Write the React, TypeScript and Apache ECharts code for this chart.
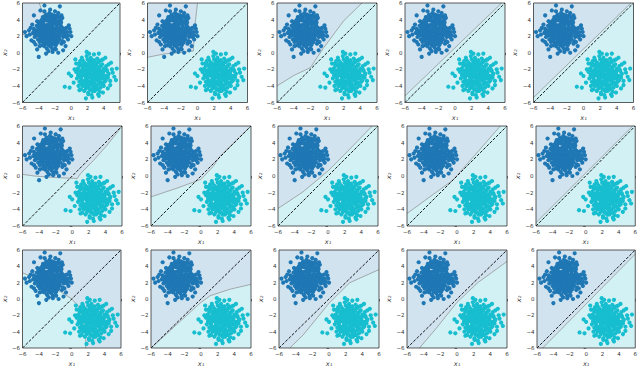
import React, { useEffect, useRef } from "react";
import * as echarts from "echarts";

// Cluster 1 (upper-left, class 0)
const clusterA: number[][] = [
  [-1.4,5.6],[-3.3,5.7],[-4.6,4.5],[-5.7,2.5],[-5.5,2.0],[-4.0,-0.5],[-4.2,0.4],[-0.1,2.5],[0.0,2.0],[-0.4,1.6],
  [-1.0,0.3],[-2.3,0.1],[-3.1,-0.1],[-1.1,4.2],[-5.0,3.0],[-4.9,1.5],[-0.3,3.3],[-2.0,5.0],[-3.8,5.1],[-1.6,4.8],
  [-4.4,1.0],[-0.7,0.8],[-1.6,0.0],[-2.8,0.2],[-5.2,2.7],[-0.2,2.9],
  [-2.6,2.5],[-2.1,2.9],[-3.0,2.2],[-2.4,1.8],[-3.3,3.0],[-1.9,2.2],[-2.8,3.4],[-3.6,2.4],[-2.2,3.6],[-1.5,2.7],
  [-3.1,1.6],[-2.7,1.2],[-3.9,2.9],[-1.7,1.6],[-2.5,4.0],[-3.4,3.8],[-1.3,3.3],[-4.1,2.1],[-2.0,1.3],[-3.5,1.3],
  [-2.9,2.8],[-2.3,2.3],[-3.2,2.6],[-1.8,3.1],[-2.6,3.1],[-3.7,3.3],[-2.4,1.5],[-1.4,2.1],[-3.0,3.9],[-2.0,4.1],
  [-4.3,2.7],[-3.8,1.8],[-1.2,2.6],[-2.8,0.9],[-2.2,1.0],[-3.4,2.0],[-1.6,3.8],[-2.9,4.3],[-4.0,3.5],[-1.0,1.9],
  [-3.3,0.8],[-2.5,0.7],[-1.9,0.9],[-3.6,3.7],[-4.4,2.3],[-2.1,4.5],[-3.1,4.6],[-1.5,4.3],[-0.9,2.9],[-3.9,1.3],
  [-2.7,2.0],[-2.0,2.6],[-3.5,2.7],[-2.3,3.3],[-1.6,2.4],[-3.0,1.9],[-2.6,3.7],[-3.8,2.6],[-1.7,1.2],[-2.4,4.2],
  [-4.6,2.9],[-4.2,3.8],[-0.8,2.3],[-1.1,1.4],[-3.2,1.1],[-2.3,0.4],[-3.6,0.9],[-1.3,3.9],[-2.7,4.8],[-3.5,4.3],
  [-1.8,2.0],[-2.9,2.4],[-3.4,3.4],[-2.1,1.7],[-1.4,3.0],[-4.0,2.5],[-2.5,2.9],[-3.1,3.3],[-2.0,3.5],[-3.7,2.1],
  [-1.0,2.4],[-4.5,1.9],[-2.8,1.6],[-1.6,1.8],[-3.3,4.1],[-2.2,2.0],[-3.9,3.1],[-2.6,1.4],[-1.9,3.9],[-0.6,1.9],
  [-4.7,2.4],[-3.0,0.5],[-2.0,0.5],[-1.2,1.1],[-4.1,1.6],[-3.6,4.0],[-2.4,4.6],[-1.7,4.5],[-0.6,3.0],[-0.5,2.5],
  [-2.45,2.15],[-2.85,2.65],[-2.15,2.45],[-3.25,2.35],[-2.65,1.75],[-1.95,2.75],[-3.05,3.15],[-2.35,3.05],[-3.45,1.75],[-1.75,3.45],
  [-2.75,3.85],[-3.75,2.85],[-1.35,2.45],[-2.05,1.55],[-3.15,1.35],[-4.05,3.05],[-1.55,3.55],[-2.55,1.05],[-3.55,3.55],[-1.85,4.25],
  [-4.35,2.05],[-1.15,3.05],[-2.95,4.05],[-3.95,2.25],[-1.45,1.65],[-2.25,4.35],[-3.35,0.95],[-0.95,2.15],[-4.25,3.25],[-2.85,1.25],
  [-1.65,1.35],[-3.65,1.55],[-2.15,3.85],[-3.25,4.35],[-0.85,2.65],[-4.55,2.65],[-2.45,0.95],[-1.25,3.65],[-3.85,3.75],[-2.65,4.45],
  [-2.3,2.7],[-2.9,2.1],[-3.5,3.1],[-1.7,2.9],[-2.5,3.5],[-3.1,2.9],[-2.0,2.1],[-3.3,2.3],[-2.7,2.8],[-2.2,1.4],
  [-4.8,3.4],[-0.4,2.1],[-1.2,4.5],[-3.9,0.8],[-1.9,0.4],[-3.3,5.0],[-0.9,1.3],[-4.6,1.3],[-2.6,5.2],[-5.1,2.2],
];

// Cluster 2 (lower-right, class 1)
const clusterB: number[][] = [
  [5.6,-1.9],[5.5,-3.3],[-0.8,-4.1],[-0.2,-4.2],[1.8,-5.5],[2.6,-5.4],[4.5,-4.3],[3.3,-5.0],[2.2,-0.1],[2.8,-0.2],
  [1.9,0.1],[3.4,-0.1],[5.1,-2.4],[0.0,-2.8],[-0.3,-2.5],[4.9,-1.2],[1.0,-4.5],[0.5,-0.8],[4.2,-0.6],[4.8,-3.9],
  [0.3,-3.6],[3.9,-4.8],[1.3,-0.6],[2.1,-5.0],[0.6,-1.3],[5.3,-2.9],
  [2.4,-2.5],[2.9,-2.1],[2.0,-2.8],[2.6,-1.9],[1.8,-3.2],[3.1,-2.6],[2.2,-1.5],[1.5,-2.3],[3.3,-3.0],[2.7,-3.4],
  [1.7,-1.6],[3.6,-2.2],[2.3,-3.8],[1.2,-2.9],[3.0,-1.3],[2.0,-4.0],[3.8,-3.1],[1.4,-1.9],[2.8,-4.2],[3.5,-1.7],
  [2.1,-2.2],[2.6,-2.8],[1.9,-2.5],[3.2,-2.0],[2.5,-3.1],[1.6,-3.6],[3.4,-2.7],[2.2,-1.1],[1.1,-2.2],[2.9,-3.7],
  [3.9,-2.4],[1.3,-3.3],[2.4,-1.3],[3.7,-3.6],[1.8,-4.3],[2.7,-1.6],[0.9,-2.6],[3.1,-4.0],[4.0,-1.9],[2.0,-1.8],
  [1.6,-1.2],[3.4,-1.1],[2.5,-4.5],[1.0,-3.5],[4.2,-2.8],[2.2,-3.5],[3.0,-2.4],[1.5,-2.7],[2.8,-0.9],[3.6,-4.2],
  [2.3,-2.0],[2.8,-2.6],[1.7,-2.1],[3.3,-3.4],[2.1,-3.0],[2.6,-3.9],[1.4,-4.0],[3.8,-1.4],[2.0,-0.8],[4.1,-3.5],
  [0.8,-1.9],[1.2,-1.4],[3.5,-2.3],[2.9,-4.6],[1.9,-3.7],[4.4,-2.2],[2.4,-0.6],[0.7,-3.1],[3.2,-0.7],[1.6,-4.6],
  [2.5,-2.2],[1.8,-2.9],[3.0,-3.1],[2.2,-2.6],[2.7,-2.0],[3.6,-2.9],[1.3,-2.5],[2.4,-3.5],[3.9,-2.7],[1.9,-1.4],
  [4.3,-1.6],[0.6,-2.3],[3.2,-4.4],[2.1,-4.8],[1.1,-1.0],[3.7,-0.9],[4.5,-3.0],[2.9,-1.8],[1.5,-3.9],[0.9,-4.0],
  [3.4,-3.8],[2.6,-1.0],[4.0,-4.0],[1.4,-0.9],[2.0,-3.4],[3.1,-1.5],[1.0,-1.6],[4.6,-2.5],[2.3,-4.3],[3.5,-4.7],
  [2.45,-2.15],[2.85,-2.75],[2.15,-2.45],[3.25,-2.35],[2.65,-1.65],[1.95,-3.05],[3.05,-3.25],[2.35,-2.95],[3.45,-1.85],[1.75,-2.45],
  [2.75,-3.85],[3.75,-2.65],[1.35,-2.15],[2.05,-1.45],[3.15,-1.25],[4.05,-3.15],[1.55,-3.45],[2.55,-1.05],[3.55,-3.55],[1.85,-4.05],
  [4.35,-2.05],[1.15,-3.05],[2.95,-4.25],[3.95,-2.15],[1.45,-1.55],[2.25,-4.35],[3.35,-0.95],[0.95,-2.15],[4.25,-3.35],[2.85,-1.25],
  [1.65,-1.25],[3.65,-1.55],[2.15,-3.85],[3.25,-4.35],[0.85,-2.75],[4.55,-2.65],[2.45,-0.85],[1.25,-3.75],[3.85,-3.85],[2.65,-4.65],
  [2.3,-2.7],[2.9,-2.3],[3.5,-3.1],[1.7,-2.8],[2.5,-3.4],[3.1,-2.9],[2.0,-2.1],[3.3,-2.2],[2.7,-2.9],[2.2,-1.7],
  [4.8,-3.4],[0.4,-2.0],[1.2,-4.4],[3.9,-0.8],[1.9,-0.4],[3.4,-5.2],[0.9,-1.3],[4.6,-1.4],[2.5,-5.1],[5.0,-2.0],
];

const diagonal: number[][] = [[-6, -6], [6, 6]];
const fullSquare: number[][] = [[-6, -6], [6, -6], [6, 6], [-6, 6]];
const tickValues = [-6, -4, -2, 0, 2, 4, 6];

// Decision boundaries (gray curve) per panel, row by row
const boundaries: number[][][] = [
  [[-6, 2.2], [-2.4, 2.0], [-3.4, 4.6], [-3.95, 6]],
  [[-6, -0.55], [-4, -0.15], [-0.5, 0.2], [-0.3, 3.4], [0, 6]],
  [[-6, -4], [-4, -2.75], [-2, -1.8], [-0.4, 0.6], [2, 3.85], [4.2, 6]],
  [[-6, -5.2], [5.6, 6]],
  [[-6, -5.4], [5.7, 6]],
  [[-6, 0.2], [-4.6, 0], [-1.8, -0.2], [0.6, -0.3], [1.0, 0.3], [2.6, 1.9], [4.2, 3.7], [5.8, 5.7], [6, 6]],
  [[-6, -2.5], [-3, -1.5], [0, -0.4], [1.5, 1.2], [2.3, 2.4], [6, 6]],
  [[-6, -3.9], [-3, -1.9], [0, 0.6], [2, 2.6], [5.3, 6]],
  [[-6, -4.5], [-0.5, -0.5], [2.5, 2.9], [5.2, 6]],
  [[-6, -5.6], [5.7, 6]],
  [[-6, 3.2], [-4.5, 2.6], [-2.5, 1.6], [-0.9, 0.6], [0, 0], [0.9, -1], [1.5, -2.8], [1.7, -4.4], [1.7, -6]],
  [[-6, -6], [-0.1, -0.5], [1.1, 0.4], [3.5, 1.2], [6, 1.8]],
  [[-4.7, -6], [-3.1, -4.4], [0.1, -0.4], [2.5, 2.0], [6, 3.6]],
  [[-4.5, -6], [-2.5, -3.6], [0, -0.4], [2.5, 2.0], [6, 4.6]],
  [[-5.3, -6], [6, 5.5]],
];

// Corners that close the class-0 (blue) region for each panel
const closures: number[][][] = [
  [[-6, 6]], [[-6, 6]], [[-6, 6]], [[-6, 6]], [[-6, 6]],
  [[-6, 6]], [[-6, 6]], [[-6, 6]], [[-6, 6]], [[-6, 6]],
  [[6, -6], [6, 6], [-6, 6]],
  [[6, 6], [-6, 6]],
  [[6, 6], [-6, 6], [-6, -6]],
  [[6, 6], [-6, 6], [-6, -6]],
  [[6, 6], [-6, 6], [-6, -6]],
];

const rowTops = [2.5, 126, 250];
const rowLefts = [
  [20, 147.5, 277, 405, 533.5],
  [22, 151, 278, 407, 536],
  [21, 151, 279, 407, 537],
];
const PANEL = 100;

const BLUE = "#1f77b4";
const CYAN = "#17becf";
const BLUE_REGION = "#d2e3f0";
const CYAN_REGION = "#d2f1f4";

function fmt(v: number) {
  return String(v).replace("-", "\u2212");
}

function polySeries(poly: number[][], fill: string, idx: number, z: number) {
  return {
    type: "custom",
    coordinateSystem: "cartesian2d",
    xAxisIndex: idx,
    yAxisIndex: idx,
    silent: true,
    z,
    data: [[0, 0]],
    renderItem: (_params: any, api: any) => ({
      type: "polygon",
      shape: { points: poly.map((p) => api.coord(p)) },
      style: { fill, stroke: "none" },
    }),
  };
}

export default function App() {
  const ref = useRef<HTMLDivElement>(null);
  useEffect(() => {
    if (!ref.current) return;
    const chart = echarts.init(ref.current, null, { renderer: "svg" });
    const grids: any[] = [];
    const xAxes: any[] = [];
    const yAxes: any[] = [];
    const series: any[] = [];
    const axisCommon = {
      type: "value",
      min: -6,
      max: 6,
      interval: 2,
      splitLine: { show: false },
      axisLine: { show: false },
      axisTick: { show: true, length: 2.5, lineStyle: { color: "#333", width: 0.7 } },
      axisLabel: {
        fontSize: 5.5,
        color: "#333",
        margin: 2.5,
        fontFamily: "DejaVu Sans",
        formatter: (v: number) => fmt(v),
        customValues: tickValues,
      },
      nameLocation: "middle",
      nameTextStyle: { fontSize: 6.5, color: "#333", fontFamily: "DejaVu Sans", fontStyle: "italic" },
    };
    for (let r = 0; r < 3; r++) {
      for (let c = 0; c < 5; c++) {
        const i = r * 5 + c;
        grids.push({
          left: rowLefts[r][c],
          top: rowTops[r],
          width: PANEL,
          height: PANEL,
          show: true,
          z: 10,
          backgroundColor: "transparent",
          borderColor: "#333",
          borderWidth: 0.8,
        });
        xAxes.push({ ...axisCommon, gridIndex: i, name: "x\u2081", nameGap: 12 });
        yAxes.push({ ...axisCommon, gridIndex: i, name: "x\u2082", nameGap: 13 });
        series.push(polySeries(fullSquare, CYAN_REGION, i, 1));
        series.push(polySeries([...boundaries[i], ...closures[i]], BLUE_REGION, i, 1.5));
        series.push({
          type: "line",
          xAxisIndex: i,
          yAxisIndex: i,
          data: boundaries[i],
          symbol: "none",
          silent: true,
          z: 2,
          lineStyle: { color: "#8c8c8c", width: 0.7 },
        });
        series.push({
          type: "scatter",
          xAxisIndex: i,
          yAxisIndex: i,
          data: clusterA,
          symbolSize: 4.2,
          silent: true,
          z: 3,
          itemStyle: { color: BLUE, opacity: 1 },
        });
        series.push({
          type: "scatter",
          xAxisIndex: i,
          yAxisIndex: i,
          data: clusterB,
          symbolSize: 4.2,
          silent: true,
          z: 3,
          itemStyle: { color: CYAN, opacity: 1 },
        });
        series.push({
          type: "line",
          xAxisIndex: i,
          yAxisIndex: i,
          data: diagonal,
          symbol: "none",
          silent: true,
          z: 4,
          lineStyle: { color: "#000", width: 0.9, type: [3, 1.5] },
        });
      }
    }
    chart.setOption({
      animation: false,
      backgroundColor: "#fff",
      grid: grids,
      xAxis: xAxes,
      yAxis: yAxes,
      series,
    });
    return () => chart.dispose();
  }, []);
  return (
    <div
      ref={ref}
      style={{ position: "fixed", left: 0, top: 0, width: 640, height: 368 }}
    />
  );
}
